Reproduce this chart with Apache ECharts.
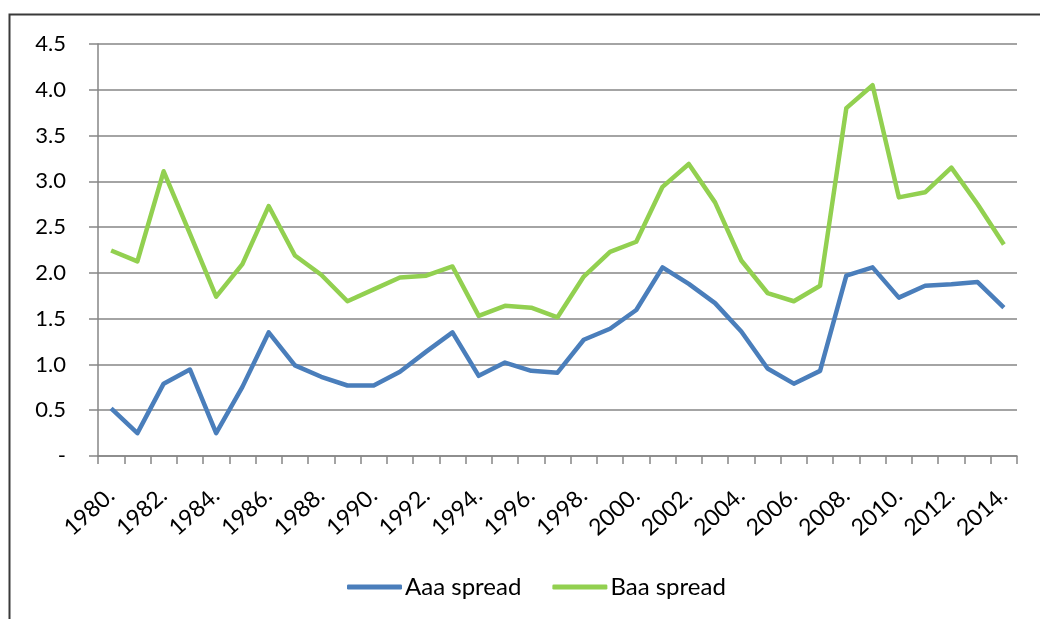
<!DOCTYPE html>
<html>
<head>
<meta charset="utf-8">
<script src="https://cdn.jsdelivr.net/npm/echarts@6/dist/echarts.min.js"></script>
<style>
html,body{margin:0;padding:0;background:#fff;}
#chart{width:1040px;height:619px;}
</style>
</head>
<body>
<div id="chart"></div>
<script>
const years = ['1980','1981','1982','1983','1984','1985','1986','1987','1988','1989','1990','1991','1992','1993','1994','1995','1996','1997','1998','1999','2000','2001','2002','2003','2004','2005','2006','2007','2008','2009','2010','2011','2012','2013','2014'];
const aaaSpread = [0.52,0.25,0.79,0.945,0.25,0.755,1.35,0.99,0.865,0.77,0.77,0.92,1.14,1.35,0.876,1.02,0.93,0.91,1.27,1.39,1.595,2.06,1.88,1.67,1.36,0.956,0.79,0.93,1.97,2.06,1.73,1.86,1.875,1.90,1.62];
const baaSpread = [2.245,2.125,3.11,2.43,1.74,2.095,2.73,2.19,1.98,1.69,1.82,1.95,1.97,2.07,1.53,1.64,1.62,1.515,1.96,2.23,2.34,2.94,3.19,2.77,2.135,1.78,1.69,1.86,3.80,4.05,2.825,2.88,3.15,2.75,2.31];
const seriesNames = ['Aaa spread','Baa spread'];
const yTicks = {min:0, max:4.5, interval:0.5};

const FONT = 'Lato, "Open Sans", sans-serif';
const chart = echarts.init(document.getElementById('chart'), null, {renderer:'canvas'});
chart.setOption({
  animation:false,
  backgroundColor:'#ffffff',
  grid:{left:98, right:23, top:44, bottom:163, containLabel:false},
  graphic:[{
    type:'polyline',
    shape:{points:[[9.5,619],[9.5,14.5],[1040,14.5]]},
    style:{stroke:'#3a3a3a', lineWidth:2, fill:null}
  }],
  legend:{
    left:342, top:570,
    itemWidth:55, itemHeight:5, itemGap:31,
    icon:'roundRect',
    textStyle:{fontFamily:FONT, fontSize:24, color:'#000', padding:[0,0,0,-2]},
    data:seriesNames
  },
  xAxis:{
    type:'category',
    data:years,
    boundaryGap:true,
    axisLine:{lineStyle:{color:'#868686', width:1.5}},
    axisTick:{show:true, interval:0, length:8, lineStyle:{color:'#868686', width:1.5}},
    axisLabel:{
      interval:1, rotate:42, margin:36,
      fontFamily:FONT, fontSize:23, color:'#000',
      formatter:v=>v+'.'
    },
    splitLine:{show:false}
  },
  yAxis:{
    type:'value',
    min:yTicks.min, max:yTicks.max, interval:yTicks.interval,
    axisLine:{show:true, lineStyle:{color:'#868686', width:1.5}},
    axisTick:{show:true, length:9, lineStyle:{color:'#868686', width:1.5}},
    axisLabel:{
      margin:32, fontFamily:FONT, fontSize:22, color:'#000',
      formatter:v=> v===0 ? '-' : v.toFixed(1)
    },
    splitLine:{show:true, lineStyle:{color:'#868686', width:1.5}}
  },
  series:[
    {name:seriesNames[0], type:'line', data:aaaSpread, symbol:'none', color:'#4a7ebb',
     lineStyle:{width:4.5, color:'#4a7ebb', join:'round'}},
    {name:seriesNames[1], type:'line', data:baaSpread, symbol:'none', color:'#92d050',
     lineStyle:{width:4.5, color:'#92d050', join:'round'}}
  ]
});
</script>
</body>
</html>
